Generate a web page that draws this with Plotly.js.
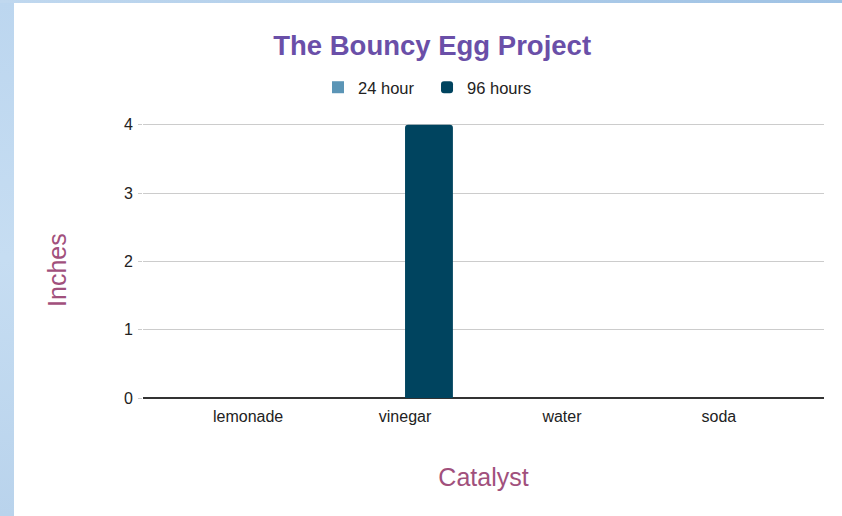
<!DOCTYPE html>
<html>
<head>
<meta charset="utf-8">
<script src="https://cdn.plot.ly/plotly-3.0.1.min.js"></script>
<style>
  html, body { margin: 0; padding: 0; width: 842px; height: 516px; overflow: hidden;
    background: linear-gradient(180deg, #bcd6ef 0%, #c6ddf2 50%, #b9d3ec 100%); }
  #topbar { position: absolute; left: 0; top: 0; width: 842px; height: 3px;
    background: linear-gradient(90deg, #c0d8ef 0%, #9fc2e4 100%); }
  #chart { position: absolute; left: 14px; top: 3px; width: 828px; height: 513px; background: #fff; }
</style>
</head>
<body>
<div id="topbar"></div>
<div id="chart"></div>
<script>
const categories = ["lemonade", "vinegar", "water", "soda"];
const seriesNames = ["24 hour", "96 hours"];
const values24 = [0, 0, 0, 0];
const values96 = [0, 4, 0, 0];
const yTicks = [0, 1, 2, 3, 4];
const xTitle = "Catalyst";
const yTitle = "Inches";

const FONT = "'Liberation Sans', Arial, sans-serif";

const data = [
  { type: "bar", name: seriesNames[0], x: categories, y: values24,
    marker: { color: "#5b95b6" }, hoverinfo: "x+y+name" },
  { type: "bar", name: seriesNames[1], x: categories, y: values96,
    marker: { color: "#00445f", cornerradius: 3 }, hoverinfo: "x+y+name" }
];

const layout = {
  width: 828, height: 513,
  margin: { l: 129, r: 18, t: 119, b: 118 },
  paper_bgcolor: "#ffffff",
  plot_bgcolor: "#ffffff",
  font: { family: FONT, color: "#222222", size: 16 },
  title: {
    text: "<b>The Bouncy Egg Project</b>",
    font: { size: 27.5, color: "#6a4fa8", family: FONT },
    x: 0.505, xanchor: "center", xref: "container",
    y: 0.917, yref: "container", yanchor: "middle"
  },
  showlegend: true,
  legend: {
    orientation: "h", x: 0.257, xanchor: "left", y: 1.125, yanchor: "middle",
    font: { size: 16.5, color: "#222222", family: FONT }, itemwidth: 30,
    entrywidth: 64, entrywidthmode: "pixels", traceorder: "normal"
  },
  barmode: "group",
  bargap: 0.39,
  bargroupgap: 0,
  xaxis: {
    type: "category",
    range: [-0.67, 3.67],
    showgrid: false, showline: false, zeroline: false,
    ticks: "", ticklabelstandoff: 7,
    tickfont: { size: 16, color: "#222222", family: FONT },
    title: { text: xTitle, font: { size: 25, color: "#a1507c", family: FONT }, standoff: 44 }
  },
  yaxis: {
    range: [0, 4.04],
    tickvals: yTicks,
    ticktext: yTicks.map(String),
    showgrid: true, gridcolor: "#cccccc", gridwidth: 1,
    zeroline: true, zerolinecolor: "#333333", zerolinewidth: 1.5,
    ticks: "outside", ticklen: 4, tickcolor: "#cccccc",
    ticklabelstandoff: 2,
    tickfont: { size: 16, color: "#222222", family: FONT }
  },
  annotations: [{
    text: yTitle, textangle: -90, showarrow: false,
    xref: "paper", yref: "paper", x: -0.1263, y: 0.464,
    xanchor: "center", yanchor: "middle",
    font: { size: 25, color: "#a1507c", family: FONT }
  }]
};

Plotly.newPlot("chart", data, layout, { displayModeBar: false });
</script>
</body>
</html>
